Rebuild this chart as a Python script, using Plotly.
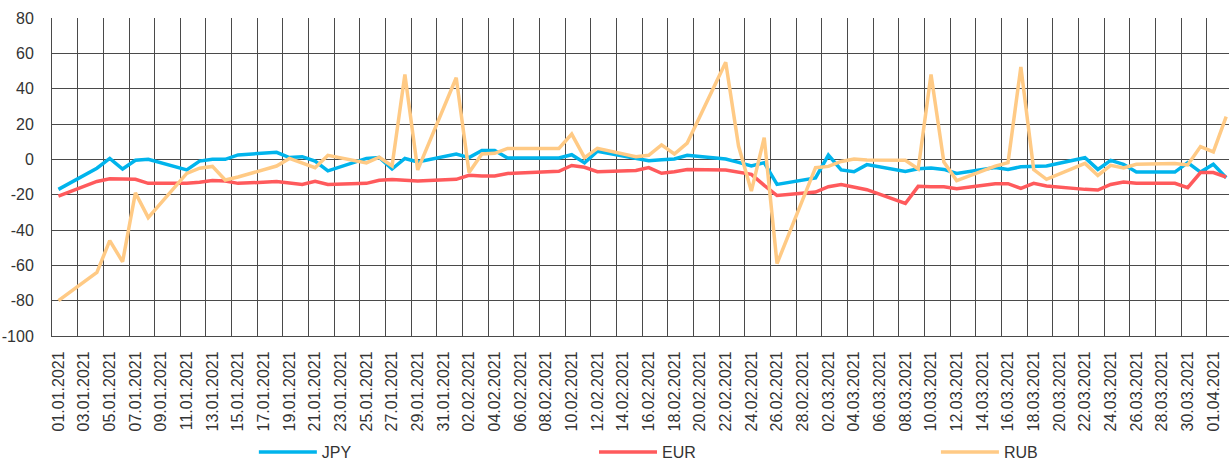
import pandas as pd
import plotly.graph_objects as go

# daily calendar 01.01.2021 .. 02.04.2021, weekends have no value (None)
DATES = pd.date_range("2021-01-01", periods=92, freq="D")
N = None

# each row = one week, Fri .. Thu
JPY = [
    -17, N, N, -5, 0.5, -5.5, -0.5,
    0, N, N, -6, -1, 0, 0,
    2.5, N, N, 4, 1, 1.5, -1,
    -6.5, N, N, 0.5, 1, -5.5, 0.5,
    -1.5, N, N, 3, 1, 5, 5,
    0.8, N, N, 0.8, 0.8, 2.6, -2,
    4.6, N, N, 0.5, -0.8, -0.2, 0.2,
    2.3, N, N, 0.2, -1.7, -3.8, -1.9,
    -14.2, N, N, -10.5, 2.4, -6, -7,
    -3, N, N, -6.8, -5.3, -4.9, -5.7,
    -8, N, N, -4.7, -5.7, -4.2, -3.8,
    -3.8, N, N, 0.9, -5.7, -0.6, -2.8,
    -7.2, N, N, -7.2, -1.9, -7.2, -2.8,
    -10.4,
]

EUR = [
    -20.8, N, N, -12.5, -11, -11.3, -11.3,
    -13.6, N, N, -13.6, -13, -12, -12.3,
    -13.6, N, N, -12.6, -13.2, -14.2, -12.4,
    -14.2, N, N, -13.6, -11.8, -11.4, -11.9,
    -12.3, N, N, -11.3, -9, -9.4, -9.4,
    -8, N, N, -7.2, -6.8, -3.5, -4.5,
    -7, N, N, -6.3, -4.7, -7.9, -7,
    -5.8, N, N, -6, -7.2, -8.5, -14.7,
    -20.5, N, N, -18.5, -15.5, -14.3, -15.7,
    -17.2, N, N, -25, -15.3, -15.5, -15.5,
    -16.6, N, N, -13.8, -13.8, -16.4, -13.6,
    -15.1, N, N, -17, -17.4, -14.2, -12.8,
    -13.6, N, N, -13.6, -16, -7.5, -7.5,
    -10,
]

RUB = [
    -80, N, N, -64, -46, -58, -19,
    -33, N, N, -8, -5, -4, -11.7,
    -10, N, N, -3.8, 0.5, -2, -4.7,
    2.3, N, N, -2, 1.2, -3.8, 48,
    -6, N, N, 46.2, -7.5, 3, 3.4,
    6.2, N, N, 6.2, 6.2, 14.3, 1,
    6.2, N, N, 1.5, 2.3, 8.2, 3,
    9.2, N, N, 55, 7.5, -18, 12.3,
    -59, N, N, -4.7, -4, -1.2, 0.2,
    -0.4, N, N, -0.5, -5.4, 48, -1.5,
    -12, N, N, -3.8, -1.9, 52.3, -5.8,
    -11.3, N, N, -2.3, -9.1, -3.4, -4.9,
    -2.8, N, N, -2.3, -3.2, 7.2, 4.2,
    24.2,
]

Y_TICKS = [80, 60, 40, 20, 0, -20, -40, -60, -80, -100]

SERIES = [("JPY", JPY, "#00B4EC"), ("EUR", EUR, "#FF5A5C"), ("RUB", RUB, "#FFCA85")]
# one small legend per series, spread under the chart (paper x of each box)
LEGEND_X = [0.1715, 0.4605, 0.751]

FONT = "Liberation Sans, Arial, sans-serif"
TEXT_COLOUR = "#333333"
GRID_COLOUR = "#4a4a4a"
HIDDEN = "rgba(0,0,0,0)"

x_idx = list(range(len(DATES)))
tick_idx = x_idx[::2]
tick_text = [d.strftime("%d.%m.%Y") for d in DATES[::2]]
# vertical grid lines sit between categories, every second day
grid_idx = [i - 0.5 for i in range(0, len(DATES) + 1, 2)]

fig = go.Figure()
for n, (name, values, colour) in enumerate(SERIES):
    legend_ref = "legend" if n == 0 else f"legend{n + 1}"
    fig.add_trace(
        go.Scatter(
            x=x_idx,
            y=values,
            mode="lines",
            name=name,
            connectgaps=True,
            line=dict(color=colour, width=3.5),
            legend=legend_ref,
            showlegend=True,
        )
    )
    fig.update_layout(
        {
            legend_ref: dict(
                x=LEGEND_X[n],
                xanchor="left",
                yref="container",
                y=0.0195,
                yanchor="middle",
                itemwidth=58,
                bgcolor=HIDDEN,
                font=dict(family=FONT, size=16, color=TEXT_COLOUR),
            )
        }
    )

fig.update_layout(
    width=1229,
    height=461,
    showlegend=True,
    margin=dict(l=52, r=0, t=18, b=125, autoexpand=False),
    plot_bgcolor="white",
    paper_bgcolor="white",
    font=dict(family=FONT, size=16, color=TEXT_COLOUR),
    xaxis=dict(
        range=[-0.5, 91.22],
        tickmode="array",
        tickvals=tick_idx,
        ticktext=tick_text,
        tickangle=-90,
        showgrid=False,
        zeroline=False,
        showline=True,
        linecolor=GRID_COLOUR,
        linewidth=1,
        ticks="outside",
        ticklen=8,
        tickcolor=HIDDEN,
        automargin=False,
        minor=dict(
            tickmode="array",
            tickvals=grid_idx,
            showgrid=True,
            gridcolor=GRID_COLOUR,
            gridwidth=1,
        ),
    ),
    yaxis=dict(
        range=[-100, 80],
        tickmode="array",
        tickvals=Y_TICKS,
        ticktext=[str(v) for v in Y_TICKS],
        showgrid=True,
        gridcolor=GRID_COLOUR,
        gridwidth=1,
        zeroline=False,
        showline=True,
        linecolor=GRID_COLOUR,
        linewidth=1,
        ticks="outside",
        ticklen=14,
        tickcolor=HIDDEN,
        automargin=False,
    ),
)

# the page body has a default 8px margin; drop it so the figure sits at 0,0
fig.write_html(
    "out.html",
    config={"displayModeBar": False},
    post_script="document.body.style.margin = '0';",
)
